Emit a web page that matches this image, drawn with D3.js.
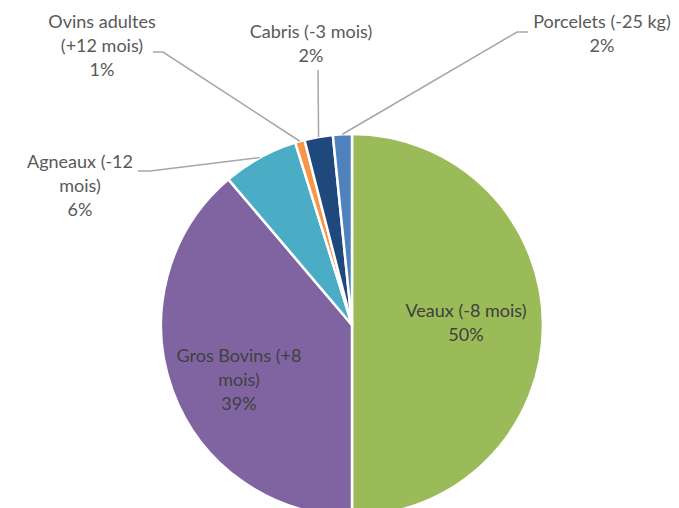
<!DOCTYPE html>
<html>
<head>
<meta charset="utf-8">
<script src="https://cdn.jsdelivr.net/npm/d3@7"></script>
<style>
  body { margin: 0; background: #fff; }
  svg { display: block; font-family: Lato, "Open Sans", sans-serif; }
</style>
</head>
<body>
<svg class="chart" width="679" height="508"></svg>
<script>
// Data (percentages)
const categories = [
  "Veaux (-8 mois)",
  "Gros Bovins (+8 mois)",
  "Agneaux (-12 mois)",
  "Ovins adultes (+12 mois)",
  "Cabris (-3 mois)",
  "Porcelets (-25 kg)",
];
const values = [50.0, 38.8, 6.4, 0.8, 2.4, 1.6];
// label text, wrapped like the original
const labelLines = [
  ["Veaux (-8 mois)"],
  ["Gros Bovins (+8", "mois)"],
  ["Agneaux (-12", "mois)"],
  ["Ovins adultes", "(+12 mois)"],
  ["Cabris (-3 mois)"],
  ["Porcelets (-25 kg)"],
];
const colors = ["#9bbb59", "#8064a2", "#4bacc6", "#f79646", "#1f497d", "#4f81bd"];

// Layout
const cx = 352, cy = 325, radius = 191;
const lineHeight = 24;
// label anchor (center x, first baseline y), leader start points, inside flag
const labelLayout = [
  { x: 466, y: 317, inside: true },
  { x: 239, y: 362, inside: true },
  { x: 80, y: 168, leader: [[138, 171], [150, 171]] },
  { x: 102, y: 28, leader: [[153, 52], [163, 52]] },
  { x: 311, y: 38, leader: [[318, 70]] },
  { x: 602, y: 28, leader: [[528, 32], [517, 32]] },
];

const svg = d3.select(".chart");

const total = d3.sum(values);
const pie = d3.pie().sort(null).value((d) => d)(values);

const arc = d3.arc().innerRadius(0).outerRadius(radius);
const edge = d3.arc().innerRadius(radius).outerRadius(radius);

const g = svg.append("g").attr("transform", `translate(${cx},${cy})`);

//Draw the slices
g.selectAll("path.slice")
  .data(pie)
  .enter()
  .append("path")
  .attr("class", "slice")
  .attr("d", arc)
  .attr("fill", (d, i) => colors[i])
  .attr("stroke", "#fff")
  .attr("stroke-width", 2.5)
  .attr("stroke-linejoin", "round");

//Leader lines for outside labels
const line = d3.line();
pie.forEach((d, i) => {
  const lay = labelLayout[i];
  if (!lay.leader) return;
  const [ex, ey] = edge.centroid(d);
  const pts = lay.leader.concat([[cx + ex, cy + ey]]);
  svg
    .append("path")
    .attr("d", line(pts))
    .attr("fill", "none")
    .attr("stroke", "#a6a6a6")
    .attr("stroke-width", 1.5);
});

//Labels
pie.forEach((d, i) => {
  const lay = labelLayout[i];
  const lines = labelLines[i].concat([Math.round((values[i] / total) * 100) + "%"]);
  const text = svg
    .append("text")
    .attr("text-anchor", "middle")
    .attr("font-size", 18)
    .attr("fill", lay.inside ? "#404040" : "#595959");
  lines.forEach((t, k) => {
    text
      .append("tspan")
      .attr("x", lay.x)
      .attr("y", lay.y + k * lineHeight)
      .text(t);
  });
});
</script>
</body>
</html>
